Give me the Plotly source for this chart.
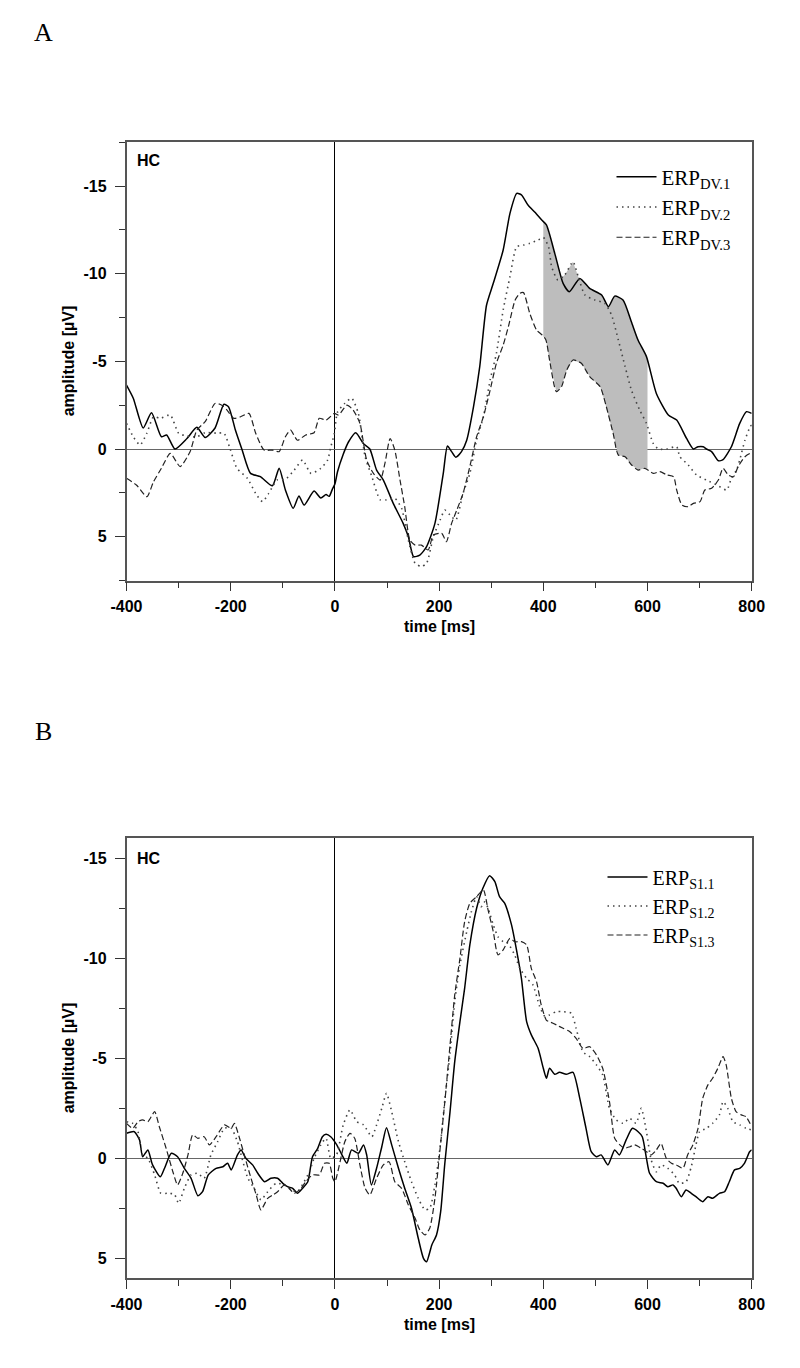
import numpy as np
import plotly.graph_objects as go

# ---------------- Panel A data (time in ms, amplitude in µV) ----------------
tA1 = [-400,-387,-368,-352,-333,-323,-307,-284,-265,-249,-230,-213,-204,-191,-178,-162,-143,-120,-107,-95,-80,-69,-59,-40,-27,-17,-11,-5,0,5,16,26,40,55,67,80,93,112,131,141,151,163,176,192,208,216,224,232,243,253,266,278,291,304,323,336,349,358,371,384,397,406,422,438,450,470,489,512,525,537,553,569,582,598,617,640,656,675,688,697,707,713,723,736,745,761,777,790,800]
vA1 = [-3.65,-2.9,-1.2,-2.07,-0.7,-0.8,0.0,-0.6,-1.24,-0.65,-1.2,-2.55,-2.4,-1.08,0.06,1.39,1.58,2.1,1.1,2.34,3.38,2.68,3.2,2.4,2.8,2.6,2.7,2.3,2.0,1.3,0.3,-0.4,-0.93,-0.3,0.0,1.2,1.77,3.1,4.24,5.0,6.14,6.05,5.57,4.24,1.39,-0.17,0.15,0.47,0.15,-0.5,-2.4,-4.7,-8.2,-9.45,-11.35,-13.44,-14.58,-14.5,-13.9,-13.5,-13.06,-12.78,-11.16,-9.45,-8.97,-9.73,-9.16,-8.78,-8.12,-8.72,-8.5,-7.26,-6.2,-5.27,-3.17,-1.94,-1.65,-0.6,0.0,-0.13,-0.13,0.0,0.15,0.67,0.6,-0.13,-1.46,-2.13,-2.03]

tA2 = [-400,-387,-374,-361,-348,-335,-316,-300,-284,-265,-249,-226,-213,-201,-188,-168,-152,-139,-127,-111,-95,-78,-62,-46,-27,-14,-8,-1,5,19,32,45,58,71,87,99,115,128,141,154,166,176,189,202,211,221,232,246,259,272,285,298,310,323,336,349,362,374,390,400,410,416,428,441,457,467,480,499,518,531,544,557,569,585,598,611,621,637,656,662,678,694,713,733,752,761,771,777,787,797,800]
vA2 = [-1.46,-0.7,-0.23,-0.9,-1.84,-1.75,-1.94,-0.9,-0.74,-0.7,-0.93,-0.9,-0.9,0.0,1.1,1.67,2.53,3.0,2.53,1.77,1.73,1.2,0.63,1.39,1.1,0.63,-0.1,-0.9,-2.1,-2.6,-2.9,-2.03,0.44,1.58,2.9,2.9,2.81,3.38,5.2,6.52,6.7,6.52,5.0,4.05,3.48,3.76,4.05,2.53,1.39,-0.5,-1.84,-3.94,-5.46,-7.93,-9.83,-11.54,-11.63,-11.73,-11.92,-12.07,-11.54,-10.4,-9.64,-9.92,-10.68,-9.83,-8.78,-8.5,-8.31,-7.64,-6.22,-4.7,-3.37,-2.22,-1.46,-0.32,0.0,0.0,-0.13,0.44,0.9,1.48,1.77,2.05,2.34,1.67,1.2,0.63,-0.5,-1.27,-1.37]

tA3 = [-400,-381,-361,-348,-333,-316,-297,-278,-265,-249,-230,-217,-207,-194,-181,-165,-152,-136,-120,-107,-95,-85,-72,-56,-40,-30,-17,-1,7,23,35,48,61,74,87,96,106,115,125,134,144,154,166,179,189,205,214,224,234,246,259,272,285,298,310,323,333,346,355,362,374,387,398,405,413,425,435,445,457,473,489,509,521,534,544,557,569,582,595,611,624,637,650,656,666,678,688,701,710,723,736,745,755,765,774,787,797,800]
vA3 = [1.67,2.05,2.72,1.86,1.1,0.25,1.0,0.15,-1.08,-1.56,-2.6,-2.5,-2.22,-1.75,-1.84,-2.03,-0.9,0.06,0.06,0.15,-0.7,-1.08,-0.5,-0.8,-0.93,-1.75,-1.65,-2.03,-1.94,-2.5,-2.22,-1.46,0.63,1.39,1.77,0.82,-0.6,0.06,1.77,3.29,5.2,5.48,5.48,5.76,4.9,4.81,5.29,4.24,3.48,2.53,1.0,-0.7,-1.84,-3.37,-4.89,-5.93,-6.98,-8.5,-8.88,-8.92,-7.74,-6.79,-6.5,-6.22,-4.9,-3.27,-3.56,-4.5,-5.08,-4.89,-4.13,-3.56,-2.41,-0.9,0.34,0.44,0.9,1.2,1.1,1.39,1.29,1.48,1.58,2.34,3.19,3.29,3.1,3.0,2.34,2.24,1.77,1.1,1.48,1.58,1.0,0.44,0.25,0.25]

# ---------------- Panel B data ----------------
tB1 = [-400,-385,-375,-369,-359,-350,-335,-327,-314,-302,-289,-276,-263,-254,-243,-228,-215,-206,-199,-187,-180,-171,-158,-148,-135,-123,-110,-100,-91,-81,-72,-62,-52,-43,-33,-24,-17,-8,3,13,23,32,45,55,61,70,80,90,99,109,122,134,147,160,170,176,186,195,203,211,221,230,240,249,259,272,284,297,307,316,326,339,348,358,368,377,390,400,406,412,422,431,444,457,470,482,492,502,511,524,537,546,559,571,582,590,598,604,617,630,639,649,655,665,674,684,693,706,716,725,738,748,757,767,777,786,796,800]
vB1 = [-1.25,-1.33,-0.92,-0.08,-0.42,0.33,0.92,0.5,-0.25,-0.08,0.5,1.0,1.87,1.67,0.83,0.5,0.42,0.25,0.58,-0.17,-0.42,0.0,0.33,0.75,1.17,1.0,1.0,1.25,1.42,1.5,1.75,1.5,1.17,-0.08,-0.5,-1.08,-1.2,-1.08,-0.7,-0.2,0.25,-0.42,-0.25,-0.67,-0.17,1.33,0.5,-0.58,-1.53,-0.67,0.5,1.5,2.5,4.0,5.0,5.17,4.33,3.83,2.67,0.25,-2.33,-4.83,-6.83,-8.5,-10.67,-12.5,-13.5,-14.13,-13.83,-13.08,-12.75,-11.67,-10.5,-9.0,-6.83,-6.17,-5.5,-4.5,-4.0,-4.5,-4.2,-4.3,-4.2,-4.3,-3.0,-1.5,-0.33,-0.08,-0.17,0.33,-0.42,-0.17,-0.92,-1.5,-1.33,-1.08,0.0,0.75,1.17,1.25,1.42,1.33,1.5,1.92,1.58,1.75,1.92,2.17,1.92,2.0,1.75,1.67,1.17,0.58,0.5,0.25,-0.33,-0.42]

tB2 = [-400,-388,-378,-369,-359,-346,-334,-321,-308,-300,-289,-276,-263,-251,-238,-225,-212,-199,-187,-180,-167,-155,-142,-129,-113,-97,-84,-72,-59,-49,-40,-27,-17,-8,3,16,29,42,55,71,80,90,99,109,122,134,147,160,173,182,192,202,211,221,230,240,253,262,272,281,288,294,304,313,323,332,345,355,368,380,393,403,412,425,438,454,463,476,489,502,514,527,540,553,566,578,588,598,607,617,626,639,652,661,674,684,693,700,713,725,738,745,754,764,777,789,800]
vB2 = [-1.83,-1.75,-1.33,-0.17,0.0,0.83,1.75,1.75,1.8,2.25,1.5,0.83,0.75,1.0,-0.17,-0.83,-1.5,-1.5,-0.83,-0.17,1.0,1.5,2.08,1.67,1.25,1.33,1.58,1.67,1.17,0.67,0.0,-0.67,-1.0,0.0,-0.17,-1.67,-2.42,-1.83,-1.67,-1.08,-1.67,-2.5,-3.25,-2.33,-0.83,0.17,1.17,2.0,2.58,2.5,1.33,-0.58,-2.92,-5.25,-7.83,-9.67,-11.33,-12.33,-13.08,-12.58,-12.83,-12.5,-11.67,-11.08,-10.83,-10.75,-10.17,-9.5,-9.0,-8.67,-7.6,-7.1,-7.17,-7.33,-7.33,-7.25,-6.5,-5.33,-5.08,-4.67,-4.17,-2.5,-1.92,-1.75,-2.0,-1.75,-2.5,-1.33,0.08,0.67,0.33,0.5,0.83,1.25,1.17,0.42,-0.67,-1.33,-1.5,-1.75,-2.17,-2.83,-2.5,-1.83,-1.67,-1.5,-1.42]

tB3 = [-400,-388,-378,-369,-359,-346,-337,-324,-311,-302,-292,-282,-273,-263,-251,-241,-228,-212,-199,-193,-183,-174,-161,-151,-142,-129,-119,-110,-97,-88,-78,-65,-56,-43,-30,-20,-11,-4,0,10,19,29,38,48,58,67,80,93,104,115,128,141,154,163,173,182,192,202,211,221,230,240,249,259,272,285,294,304,313,323,336,345,358,368,377,387,396,406,412,425,438,451,463,476,489,502,514,527,537,547,556,566,575,588,598,607,617,626,636,646,655,668,677,687,697,706,716,725,735,745,751,761,770,780,789,800]
vB3 = [-1.75,-1.5,-1.83,-1.92,-1.83,-2.33,-1.58,-0.5,0.67,1.33,0.75,-0.17,-1.17,-1.0,-1.08,-0.67,-1.08,-1.67,-1.5,-1.75,-1.0,-0.17,1.0,1.83,2.58,2.0,1.83,1.67,1.33,1.5,1.75,1.5,1.17,0.83,0.83,0.25,0.25,1.0,1.17,0.17,-0.83,-1.25,-1.0,0.33,1.5,1.83,1.0,0.33,0.17,1.17,1.5,2.33,3.0,3.58,3.83,3.5,2.0,-0.5,-2.83,-5.67,-8.17,-10.0,-11.83,-12.75,-13.08,-13.42,-12.42,-11.33,-10.17,-10.42,-11.0,-10.83,-10.83,-10.67,-9.5,-8.83,-7.67,-6.9,-6.83,-6.67,-6.5,-6.33,-6.0,-5.5,-5.58,-5.17,-4.5,-2.83,-1.0,-0.67,-0.5,-0.58,-0.67,-0.5,-0.33,-0.17,-0.42,-0.75,0.0,0.25,0.33,0.5,-0.17,-0.67,-1.5,-3.0,-3.67,-4.0,-4.5,-5.08,-4.67,-3.0,-2.33,-2.17,-2.08,-1.58]

namesA = ["ERP<sub>DV.1</sub>", "ERP<sub>DV.2</sub>", "ERP<sub>DV.3</sub>"]
namesB = ["ERP<sub>S1.1</sub>", "ERP<sub>S1.2</sub>", "ERP<sub>S1.3</sub>"]
shade_window = [400, 600]
x_ticks = [-400, -200, 0, 200, 400, 600, 800]
x_ticktext = ["-400", "-200", "0", "200", "400", "600", "800"]
y_ticks = [-15, -10, -5, 0, 5]
y_ticktext = ["-15", "-10", "-5", "0", "5"]

# ---------------- styles ----------------
styles = [
    dict(color="#000000", width=1.5, dash="solid", shape="spline", smoothing=0.6),
    dict(color="#444444", width=1.6, dash="1.5px,4px", shape="spline", smoothing=0.6),
    dict(color="#222222", width=1.2, dash="6px,3px", shape="spline", smoothing=0.6),
]
SANS = "Liberation Sans, Arial, Helvetica, sans-serif"
SERIF = "Liberation Serif, Times New Roman, serif"

W, H = 800, 1368
OFF = 8  # page offset of the plot div (body margin)

def px(p):   # page x pixel -> paper fraction
    return (p - OFF) / W

def py(p):   # page y pixel -> paper fraction
    return 1 - (p - OFF) / H

fig = go.Figure()

# shaded envelope between the three DV curves in the window
seriesA = [(tA1, vA1), (tA2, vA2), (tA3, vA3)]
grid = sorted(set([t for ts, _ in seriesA for t in ts if shade_window[0] <= t <= shade_window[1]] + shade_window))
grid = np.array(grid, dtype=float)
interp = np.array([np.interp(grid, ts, vs) for ts, vs in seriesA])
upper = interp.min(axis=0)
lower = interp.max(axis=0)
fig.add_trace(go.Scatter(
    x=np.concatenate([grid, grid[::-1]]), y=np.concatenate([upper, lower[::-1]]),
    fill="toself", fillcolor="#bdbdbd", line=dict(width=0), mode="lines",
    showlegend=False, hoverinfo="skip", xaxis="x", yaxis="y"))

for (ts, vs), nm, st in zip(seriesA, namesA, styles):
    fig.add_trace(go.Scatter(x=ts, y=vs, mode="lines", name=nm, line=st,
                             xaxis="x", yaxis="y", legend="legend"))

seriesB = [(tB1, vB1), (tB2, vB2), (tB3, vB3)]
for (ts, vs), nm, st in zip(seriesB, namesB, styles):
    fig.add_trace(go.Scatter(x=ts, y=vs, mode="lines", name=nm, line=st,
                             xaxis="x2", yaxis="y2", legend="legend2"))

xdom = [px(126.5), px(751.7)]
ydomA = [py(580.5), py(142.2)]
ydomB = [py(1278.3), py(838.3)]

tickfont = dict(family=SANS, size=16, color="#000", weight="bold")
axline = dict(showline=True, linecolor="#555555", linewidth=1.5, mirror=True,
              showgrid=False, ticks="outside", tickcolor="#333333", tickwidth=1.2,
              tickfont=tickfont, automargin=False)

def xaxis_cfg(anchor):
    return dict(domain=xdom, anchor=anchor, range=[-400, 800],
                tickmode="array", tickvals=x_ticks, ticktext=x_ticktext,
                ticklen=9, zeroline=True, zerolinecolor="#000000", zerolinewidth=1.3,
                ticklabelstandoff=2,
                minor=dict(dtick=100, tick0=-400, ticks="outside", ticklen=6,
                           tickcolor="#333333", tickwidth=1.2),
                **axline)

def yaxis_cfg(anchor, dom, rng):
    return dict(domain=dom, anchor=anchor, range=rng,
                tickmode="array", tickvals=y_ticks, ticktext=y_ticktext,
                ticklen=10, zeroline=True, zerolinecolor="#666666", zerolinewidth=1.3,
                ticklabelstandoff=5,
                minor=dict(dtick=2.5, tick0=0, ticks="outside", ticklen=6,
                           tickcolor="#333333", tickwidth=1.2),
                **axline)

fig.update_layout(
    template="none",
    width=W, height=H, autosize=False,
    margin=dict(l=0, r=0, t=0, b=0, pad=0, autoexpand=False),
    paper_bgcolor="white", plot_bgcolor="white",
    xaxis=xaxis_cfg("y"), yaxis=yaxis_cfg("x", ydomA, [7.5, -17.5]),
    xaxis2=xaxis_cfg("y2"), yaxis2=yaxis_cfg("x2", ydomB, [6, -16]),
    legend=dict(x=px(611.5), y=py(156.5), xanchor="left", yanchor="top",
                font=dict(family=SERIF, size=21, color="#000"),
                bgcolor="rgba(0,0,0,0)", borderwidth=0,
                tracegroupgap=0, itemwidth=40),
    legend2=dict(x=px(602.5), y=py(857.5), xanchor="left", yanchor="top",
                 font=dict(family=SERIF, size=20, color="#000"),
                 bgcolor="rgba(0,0,0,0)", borderwidth=0,
                 tracegroupgap=0, itemwidth=40),
)

ann = []
def text_ann(text, x, y, size, family, angle=0):
    return dict(text=text, x=x, y=y, xref="paper", yref="paper", xanchor="center",
                yanchor="middle", showarrow=False, textangle=angle,
                font=dict(family=family, size=size, color="#000"))

# panel letters
ann.append(text_ann("A", px(43), py(32), 26, SERIF))
ann.append(text_ann("B", px(43), py(731), 26, SERIF))
# HC labels
for xr, yr, yy in [("x domain", "y domain", 0.982), ("x2 domain", "y2 domain", 0.977)]:
    ann.append(dict(text="<b>HC</b>", x=0.013, y=yy, xref=xr, yref=yr, xanchor="left",
                    yanchor="top", showarrow=False,
                    font=dict(family=SANS, size=16, color="#000")))
# axis titles
for dom, xt_y in [(ydomA, py(626)), (ydomB, py(1324))]:
    ann.append(text_ann("<b>amplitude [µV]</b>", px(68), (dom[0] + dom[1]) / 2, 16, SANS, -90))
    ann.append(text_ann("<b>time [ms]</b>", (xdom[0] + xdom[1]) / 2, xt_y, 16, SANS))
fig.update_layout(annotations=ann)

fig.write_html("out.html")
